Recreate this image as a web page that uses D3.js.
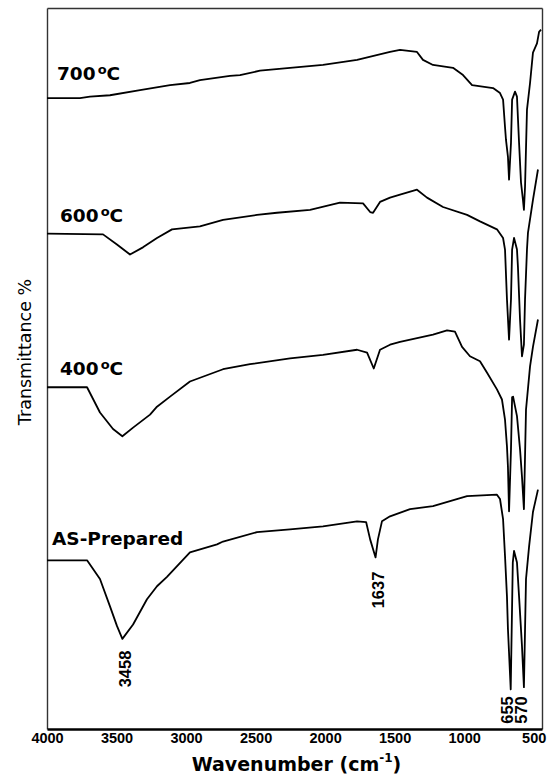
<!DOCTYPE html>
<html>
<head>
  <meta charset="utf-8">
  <script src="https://cdn.jsdelivr.net/npm/d3@7"></script>
  <style type="text/css">
    body { margin: 0; background: #fff; }
    .spectrum { fill: none; stroke: #000; stroke-width: 1.8; stroke-linejoin: round; }
    .frame path { stroke: #333; stroke-width: 1.4; }
    .x.axis path { stroke: #000; stroke-width: 2.6; }
    .x.axis text { font: bold 14.5px "Liberation Sans", Arial, sans-serif; fill: #000; }
    .sample { font: bold 18.5px "DejaVu Sans", Verdana, sans-serif; fill: #000; }
    .peak { font: bold 16.5px "Liberation Sans", Arial, sans-serif; fill: #000; }
    .title-x { font: bold 19px "DejaVu Sans", Verdana, sans-serif; }
    .title-y { font: 17.5px "DejaVu Sans", Verdana, sans-serif; }
  </style>
</head>
<body>
<script type="text/javascript">

// spectra: [wavenumber, transmittance (arb. offset %)]
const s700 = [[4000,87.5],[3763,87.5],[3691,87.7],[3547,87.9],[3331,88.6],[3115,89.3],[2972,89.6],[2900,90.0],
  [2684,90.6],[2612,90.7],[2468,91.3],[2252,91.7],[2015,92.1],[1770,92.8],[1533,93.9],[1461,94.2],[1339,93.9],
  [1296,92.8],[1224,92.1],[1080,91.7],[1008,90.7],[943,89.3],[792,88.9],[742,88.2],[720,87.3],[706,83.5],
  [699,81.7],[685,79.4],[677,76.2],[663,81.3],[655,87.3],[634,88.4],[620,87.7],[605,81.3],[591,75.8],
  [577,73.4],[570,72.0],[562,75.2],[548,85.9],[526,89.6],[505,93.8],[476,95.1],[461,96.7],[447,97.0]];

const s600 = [[4000,68.7],[3597,68.6],[3497,67.2],[3403,65.8],[3310,66.8],[3209,68.1],[3101,69.3],[2900,69.7],
  [2734,70.6],[2490,71.3],[2346,71.6],[2108,72.0],[1893,73.0],[1727,72.9],[1676,71.7],[1655,71.6],[1605,73.1],
  [1533,73.7],[1461,74.1],[1339,74.8],[1267,73.7],[1152,72.4],[979,71.3],[886,70.4],[764,69.3],[720,68.1],
  [706,66.5],[692,59.6],[677,54.0],[663,59.6],[655,66.5],[641,68.1],[620,66.5],[613,64.1],[598,56.8],
  [584,51.7],[570,53.3],[562,59.6],[548,66.5],[541,68.8],[505,73.4],[469,77.6]];

const s400 = [[4000,47.4],[3712,47.4],[3619,43.9],[3525,41.6],[3458,40.6],[3381,41.8],[3259,43.6],[3209,44.7],
  [3115,46.1],[2972,48.2],[2734,49.9],[2540,50.6],[2252,51.4],[2015,51.9],[1770,52.6],[1698,52.2],[1650,50.0],
  [1605,52.6],[1533,53.3],[1461,53.7],[1224,54.7],[1123,55.3],[1066,55.1],[1015,53.0],[958,51.7],[886,51.0],
  [835,49.4],[764,47.1],[728,45.7],[706,42.9],[692,39.2],[685,36.4],[677,30.2],[663,38.8],[655,46.0],
  [648,46.1],[620,43.4],[598,38.8],[584,35.0],[570,30.5],[555,44.3],[526,50.3],[505,53.0],[469,56.8]];

const sAs = [[4000,23.4],[3712,23.4],[3619,20.8],[3547,17.0],[3497,14.3],[3458,12.5],[3381,14.5],[3281,18.0],
  [3209,19.8],[3137,21.1],[2972,24.5],[2777,25.6],[2734,26.0],[2490,27.3],[2252,27.7],[2015,28.1],[1770,28.8],
  [1705,28.7],[1676,26.3],[1637,23.8],[1620,26.3],[1591,28.8],[1533,29.5],[1389,30.5],[1224,30.9],[979,32.3],
  [764,32.5],[742,31.9],[720,29.1],[706,24.0],[692,18.4],[685,13.9],[665,5.5],[650,23.1],[641,24.7],
  [620,23.1],[605,18.4],[584,11.5],[570,5.8],[555,20.8],[533,25.3],[505,30.1],[469,33.2]];

const sampleNames = ['700', '600', '400', 'AS-Prepared'];
const peakNames = ['3458', '1637', '655', '570'];
const xTicks = [4000, 3500, 3000, 2500, 2000, 1500, 1000, 500];

const margin = {top: 8, right: 8, bottom: 50, left: 47};
const width = 550 - margin.left - margin.right;
const height = 779 - margin.top - margin.bottom;

const svg = d3.select('body').append('svg')
  .attr('width', 550)
  .attr('height', 779);

const g = svg.append('g')
  .attr('transform', `translate(${margin.left},${margin.top})`);

const x = d3.scaleLinear().domain([4000, 440]).range([0, width]);
const y = d3.scaleLinear().domain([0, 100]).range([height, 0]);

// frame
g.append('g').attr('class', 'frame').call(d3.axisTop(x).tickValues([]).tickSizeOuter(0));
g.append('g').attr('class', 'frame').call(d3.axisLeft(y).tickValues([]).tickSizeOuter(0));
g.append('g').attr('class', 'frame').attr('transform', `translate(${width},0)`)
  .call(d3.axisRight(y).tickValues([]).tickSizeOuter(0));

const gx = g.append('g').attr('class', 'x axis')
  .attr('transform', `translate(0,${height})`)
  .call(d3.axisBottom(x).tickValues(xTicks).tickSize(0).tickPadding(4).tickFormat(d3.format('d')));
gx.selectAll('text').attr('fill', '#000');

// spectra
const line = d3.line().x(d => x(d[0])).y(d => y(d[1]));
const series = [s700, s600, s400, sAs];
g.selectAll('.spectrum').data(series).enter().append('path')
  .attr('class', 'spectrum')
  .attr('d', line);

// sample labels, placed above the start of each trace
const labelDx = [10, 13, 13, 5];
const labelDy = [-18, -12, -12, -15];
series.forEach((s, i) => {
  const t = g.append('text').attr('class', 'sample')
    .attr('x', x(s[0][0]) + labelDx[i])
    .attr('y', y(s[0][1]) + labelDy[i]);
  t.append('tspan').text(sampleNames[i]);
  if (i < 3) {
    t.append('tspan').attr('font-size', 13).attr('dx', 2).attr('dy', -6).text('o');
    t.append('tspan').attr('dy', 6).text('C');
  }
});

// peak labels, rotated, below the dips of the as-prepared trace
const peakCy = [669, 590, 710, 710];
const peakDx = [2.5, 2.5, -5, -3];
peakNames.forEach((p, i) => {
  const cx = x(+p) + peakDx[i];
  g.append('text').attr('class', 'peak')
    .attr('text-anchor', 'middle')
    .attr('transform', `translate(${cx + 6},${peakCy[i] - margin.top}) rotate(-90)`)
    .text(p);
});

// axis titles
const tx = svg.append('text').attr('class', 'title-x')
  .attr('x', margin.left + width / 2 + 2)
  .attr('y', 771)
  .attr('text-anchor', 'middle');
tx.append('tspan').text('Wavenumber (cm');
tx.append('tspan').attr('font-size', 12).attr('dy', -9).text('-1');
tx.append('tspan').attr('dy', 9).text(')');

svg.append('text').attr('class', 'title-y')
  .attr('transform', 'translate(31,352) rotate(-90)')
  .attr('text-anchor', 'middle')
  .text('Transmittance %');

</script>
</body>
</html>
